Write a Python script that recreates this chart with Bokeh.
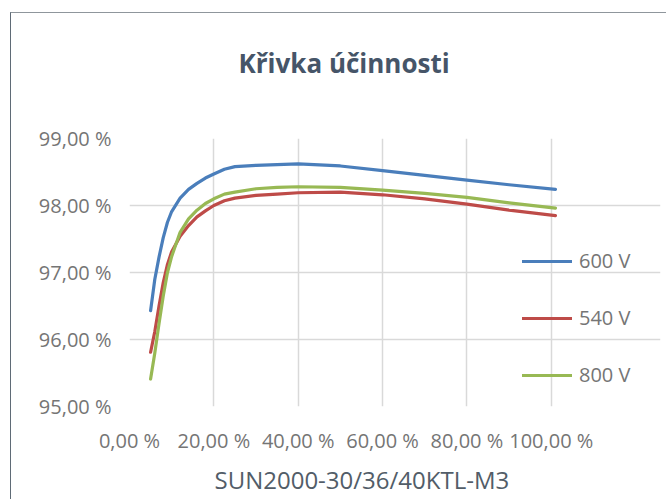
from bokeh.plotting import figure
from bokeh.models import Range1d, FixedTicker, Legend, LegendItem, Title
from bokeh.embed import file_html
from bokeh.resources import INLINE

# ---- data ----
load_pct = [5, 6, 7, 8, 9, 10, 12, 14, 16, 18, 20, 22.5, 25, 30, 35, 40, 50, 60, 70, 80, 90, 101]
eff_600 = [96.43, 96.90, 97.23, 97.52, 97.75, 97.91, 98.11, 98.24, 98.33, 98.41, 98.47,
           98.54, 98.58, 98.60, 98.61, 98.62, 98.59, 98.52, 98.45, 98.38, 98.31, 98.24]
eff_540 = [95.81, 96.12, 96.50, 96.85, 97.12, 97.31, 97.54, 97.70, 97.83, 97.92, 98.00,
           98.07, 98.11, 98.15, 98.17, 98.19, 98.20, 98.16, 98.10, 98.02, 97.93, 97.85]
eff_800 = [95.41, 95.80, 96.24, 96.65, 97.00, 97.24, 97.60, 97.80, 97.93, 98.03, 98.10,
           98.17, 98.20, 98.25, 98.27, 98.28, 98.27, 98.23, 98.18, 98.12, 98.04, 97.96]

series_names = ["600 V", "540 V", "800 V"]
series_colors = ["#4a7ebb", "#be4b48", "#98b954"]

x_ticks = [0, 20, 40, 60, 80, 100]
x_tick_labels = ["0,00 %", "20,00 %", "40,00 %", "60,00 %", "80,00 %", "100,00 %"]
y_ticks = [95, 96, 97, 98, 99]
y_tick_labels = ["95,00 %", "96,00 %", "97,00 %", "98,00 %", "99,00 %"]
x_axis_max = 110

title_text = "Křivka účinnosti"
x_title = "SUN2000-30/36/40KTL-M3"

FONT = "Open Sans"
TICK_COLOR = "#757575"
GRID_COLOR = "#d9d9d9"

p = figure(width=656, height=487, output_backend="svg", toolbar_location=None,
           x_range=Range1d(0, 125.9), y_range=Range1d(95, 99),
           min_border_left=118, min_border_right=7, min_border_top=125, min_border_bottom=94)
p.styles = {"margin-left": "10px", "margin-top": "12px",
            "border-left": "1px solid #5f6b76", "border-top": "1px solid #8f969c"}
p.outline_line_color = None
p.background_fill_color = "white"
p.border_fill_color = "white"
p.title.text = ""

# spacer between frame and title, then the title itself
spacer = Title(text=" ", text_font_size="1px", standoff=50)
p.add_layout(spacer, "above")
main_title = Title(text=title_text, align="left", offset=109, text_font=FONT,
                   text_font_style="bold", text_font_size="26px", text_color="#465568",
                   standoff=10)
p.add_layout(main_title, "above")

xa = p.xaxis[0]
xa.ticker = FixedTicker(ticks=x_ticks)
xa.major_label_overrides = dict(zip(x_ticks, x_tick_labels))

ya = p.yaxis[0]
ya.ticker = FixedTicker(ticks=y_ticks)
ya.major_label_overrides = dict(zip(y_ticks, y_tick_labels))

for ax in (xa, ya):
    ax.axis_line_color = None
    ax.major_tick_line_color = None
    ax.minor_tick_line_color = None
    ax.major_tick_out = 0
    ax.major_tick_in = 0
    ax.major_label_text_font = FONT
    ax.major_label_text_font_size = "20px"
    ax.major_label_text_color = TICK_COLOR
xa.major_label_standoff = 20
ya.major_label_standoff = 18

xt = Title(text=x_title, align="left", offset=85, text_font=FONT, text_font_style="normal",
           text_font_size="24px", text_color="#525d68", standoff=8)
p.add_layout(xt, "below")

p.xgrid.ticker = FixedTicker(ticks=x_ticks)
p.ygrid.ticker = FixedTicker(ticks=y_ticks)
p.ygrid.bounds = (0, x_axis_max)
for g in (p.xgrid[0], p.ygrid[0]):
    g.grid_line_color = GRID_COLOR
    g.grid_line_width = 1.5

items = []
for ys, name, col in zip([eff_600, eff_540, eff_800], series_names, series_colors):
    r = p.line(load_pct, ys, line_color=col, line_width=3.2, line_join="round", line_cap="round")
    items.append(LegendItem(label=name, renderers=[r]))

legend = Legend(items=items, location=(393, 18), orientation="vertical",
                padding=0, margin=0, spacing=30, glyph_width=50, glyph_height=20,
                label_height=20, label_standoff=7,
                label_text_font=FONT, label_text_font_size="20px",
                label_text_color=TICK_COLOR,
                border_line_color=None, background_fill_alpha=0)
p.add_layout(legend, "center")

open("out.html", "w").write(file_html(p, INLINE))
